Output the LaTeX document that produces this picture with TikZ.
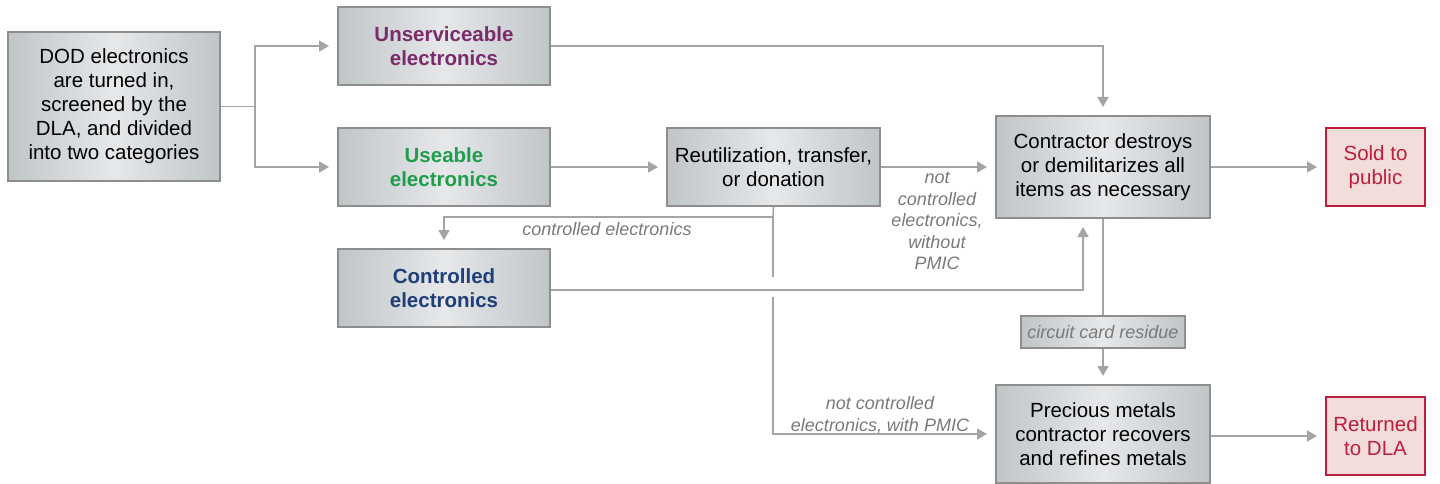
\documentclass[tikz,border=0pt]{standalone}
\usepackage{fontspec}
\setmainfont{Liberation Sans}
\usetikzlibrary{arrows.meta}
\definecolor{boxedge}{HTML}{C0C5C8}
\definecolor{boxmid}{HTML}{E6E8EA}
\definecolor{boxline}{HTML}{8E8E8E}
\definecolor{wire}{HTML}{A4A4A4}
\definecolor{redline}{HTML}{BE1E3C}
\definecolor{redfill}{HTML}{F2DDDA}
\definecolor{purpletext}{HTML}{7A2B6A}
\definecolor{greentext}{HTML}{1E9E4A}
\definecolor{bluetext}{HTML}{1F3F7A}
\tikzset{
  step box/.style={draw=boxline, line width=2pt, left color=boxedge, right color=boxedge, middle color=boxmid,
    align=center, font=\fontsize{20.5}{24}\selectfont, inner sep=0pt},
  end box/.style={draw=redline, line width=2pt, fill=redfill, text=redline,
    align=center, font=\fontsize{20.5}{24}\selectfont, inner sep=0pt},
  note/.style={text=gray!95!black, align=center, font=\fontsize{18}{21.5}\selectfont\itshape, inner sep=0pt},
  link/.style={draw=wire, line width=1.6pt},
  flow/.style={link, -{Triangle[length=10pt,width=11pt]}, shorten >=8pt}
}
\begin{document}
\begin{tikzpicture}[x=1pt, y=-1pt]
		%%%%% FRAME %%%%%
		\useasboundingbox (0, 0) rectangle (1440, 484);
		
		%%%%% BOXES %%%%%
		\node[step box, minimum width=212pt, minimum height=149pt] (dod) at (114, 106.5)
			{DOD electronics\\are turned in,\\screened by the\\DLA, and divided\\into two categories};
		\node[step box, minimum width=212pt, minimum height=78pt, text=purpletext, font=\fontsize{20.5}{24}\selectfont\bfseries] (unserv) at (444, 46)
			{Unserviceable\\electronics};
		\node[step box, minimum width=212pt, minimum height=78pt, text=greentext, font=\fontsize{20.5}{24}\selectfont\bfseries] (useable) at (444, 167)
			{Useable\\electronics};
		\node[step box, minimum width=212pt, minimum height=78pt, text=bluetext, font=\fontsize{20.5}{24}\selectfont\bfseries] (ctrl) at (444, 288)
			{Controlled\\electronics};
		\node[step box, minimum width=213pt, minimum height=78pt] (reuse) at (773.5, 167)
			{Reutilization, transfer,\\or donation};
		\node[step box, minimum width=214pt, minimum height=102pt] (destroy) at (1103, 167)
			{Contractor destroys\\or demilitarizes all\\items as necessary};
		\node[step box, minimum width=214pt, minimum height=98pt] (precious) at (1103, 434)
			{Precious metals\\contractor recovers\\and refines metals};
		\node[step box, minimum width=164pt, minimum height=32pt, font=\fontsize{18}{21.5}\selectfont\itshape, text=gray!95!black] (residue) at (1103, 332)
			{circuit card residue};
		\node[end box, minimum width=99pt, minimum height=78pt] (sold) at (1375.5, 167)
			{Sold to\\public};
		\node[end box, minimum width=99pt, minimum height=78pt] (returned) at (1375.5, 436)
			{Returned\\to DLA};
		
		%%%%% LABELS %%%%%
		\node[note] (lblctrl) at (607, 229) {controlled electronics};
		\node[note] (lblwithout) at (937, 221) {not\\controlled\\electronics,\\without\\PMIC};
		\node[note] (lblwith) at (880, 415) {not controlled\\electronics, with PMIC};
		
		%%%%% CONNECTORS %%%%%
		\coordinate (split) at (255, 106.5);
		\draw[link] (dod.east) -- (split);
		\draw[flow] (split) |- (unserv.west);
		\draw[flow] (split) |- (useable.west);
		
		\draw[flow] (unserv.east) -| (destroy.north);
		\draw[flow] (useable) -- (reuse);
		\draw[flow] (reuse) -- (destroy);
		
		\coordinate (drop) at (773, 217);
		\draw[flow] (reuse.south) -- (drop) -| (ctrl.north);
		
		\coordinate (hopA) at (773, 277);
		\coordinate (hopB) at (773, 297);
		\draw[link] (drop) -- (hopA);
		\draw[flow] (hopB) |- (precious.west);
		
		\coordinate (upturn) at (1083, 290);
		\draw[flow] (ctrl.east |- upturn) -- (upturn) -- (upturn |- destroy.south);
		
		\draw[link] (destroy.south) -- (residue.north);
		\draw[flow] (residue.south) -- (precious.north);
		
		\draw[flow] (destroy) -- (sold);
		\draw[flow] (precious.east |- returned) -- (returned);
		
		%%%%% END %%%%%
	\end{tikzpicture}
\end{document}
